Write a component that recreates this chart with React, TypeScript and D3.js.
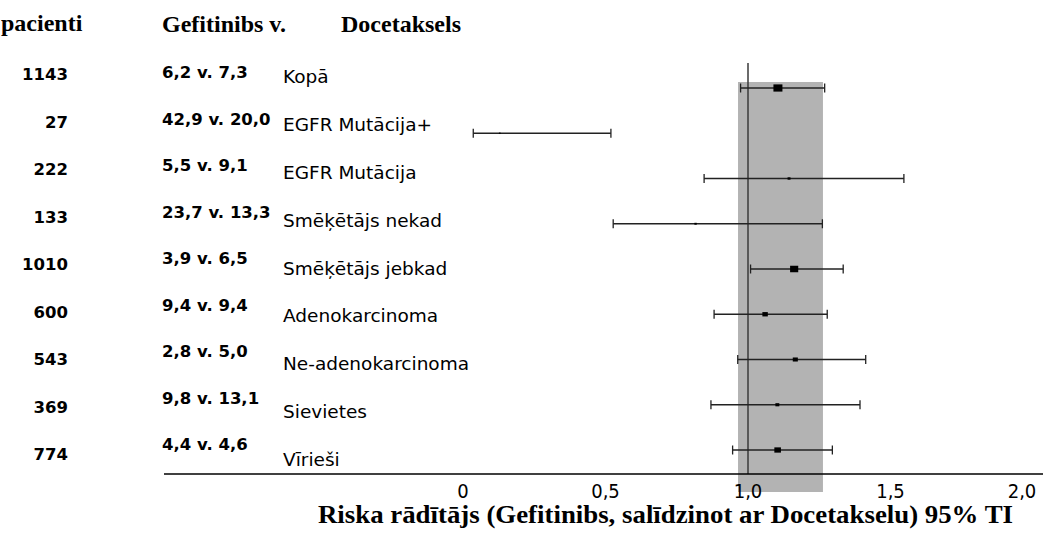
import React from 'react';
import {scaleLinear, scalePoint} from 'd3';

// rindas (apakšgrupas)
const categories = ['Kopā', 'EGFR Mutācija+', 'EGFR Mutācija', 'Smēķētājs nekad', 'Smēķētājs jebkad',
  'Adenokarcinoma', 'Ne-adenokarcinoma', 'Sievietes', 'Vīrieši'];
const patients = [1143, 27, 222, 133, 1010, 600, 543, 369, 774];
const gefitinibRate = [6.2, 42.9, 5.5, 23.7, 3.9, 9.4, 2.8, 9.8, 4.4];
const docetaxelRate = [7.3, 20.0, 9.1, 13.3, 6.5, 9.4, 5.0, 13.1, 4.6];
// riska attiecība un 95% TI
const hazardRatio = [1.105, 0.129, 1.144, 0.816, 1.162, 1.06, 1.166, 1.103, 1.104];
const ciLow = [0.974, 0.036, 0.846, 0.527, 1.009, 0.881, 0.964, 0.87, 0.946];
const ciHigh = [1.269, 0.519, 1.547, 1.261, 1.334, 1.278, 1.413, 1.393, 1.296];
// pelēkā josla
const bandRange = [0.965, 1.263];
const xTicks = [0, 0.5, 1.0, 1.5, 2.0];

const W = 1043;
const H = 547;

const fmt = (v: number) => v.toFixed(1).replace('.', ',');

const App = () => {
  const x = scaleLinear().domain([0, 2]).range([463, 1033]);
  const yRow = scalePoint<string>().domain(categories).range([88, 450]);   // TI līnijas
  const yNum = scalePoint<string>().domain(categories).range([80, 460]);   // pacienti
  const yRate = scalePoint<string>().domain(categories).range([78, 450]);  // x v. y
  const yLab = scalePoint<string>().domain(categories).range([83, 466]);   // nosaukumi
  const size = scaleLinear().domain([0, 1143]).range([1.5, 9]);

  const serif = '"Liberation Serif", "Times New Roman", serif';
  const sans = '"DejaVu Sans", Verdana, sans-serif';
  const narrow = '"DejaVu Sans Condensed", "Liberation Sans Narrow", "DejaVu Sans", sans-serif';
  const baseY = 474;

  return (
    <svg width={W} height={H} style={{position: 'absolute', left: 0, top: 0, background: '#fff'}}>
      {/* virsraksti */}
      <text x={1} y={31} fontFamily={serif} fontWeight="bold" fontSize={24}>pacienti</text>
      <text x={162} y={32} fontFamily={serif} fontWeight="bold" fontSize={24}>Gefitinibs v.</text>
      <text x={341} y={32} fontFamily={serif} fontWeight="bold" fontSize={24}>Docetaksels</text>

      {/* josla */}
      <rect x={x(bandRange[0])} y={82} width={x(bandRange[1]) - x(bandRange[0])} height={492 - 82} fill="#b3b3b3"/>
      <line x1={x(1)} x2={x(1)} y1={63} y2={baseY} stroke="#3a3a3a" strokeWidth={1.5}/>

      {categories.map((c, i) => {
        const y = yRow(c)!;
        const s = size(patients[i]);
        return (
          <g key={c}>
            <text x={68} y={yNum(c)} textAnchor="end" fontFamily={sans} fontWeight="bold" fontSize={16.5}>{patients[i]}</text>
            <text x={162} y={yRate(c)} fontFamily={sans} fontWeight="bold" fontSize={16.5}>
              {fmt(gefitinibRate[i])} v. {fmt(docetaxelRate[i])}
            </text>
            <text x={283} y={yLab(c)} fontFamily={sans} fontSize={18.5}>{c}</text>
            <line x1={x(ciLow[i])} x2={x(ciHigh[i])} y1={y} y2={y} stroke="#222" strokeWidth={1.3}/>
            <line x1={x(ciLow[i])} x2={x(ciLow[i])} y1={y - 4.5} y2={y + 4.5} stroke="#222" strokeWidth={1.3}/>
            <line x1={x(ciHigh[i])} x2={x(ciHigh[i])} y1={y - 4.5} y2={y + 4.5} stroke="#222" strokeWidth={1.3}/>
            <rect x={x(hazardRatio[i]) - s / 2} y={y - s * 0.4} width={s} height={s * 0.8} fill="#000"/>
          </g>
        );
      })}

      {/* ass */}
      <line x1={164} x2={W} y1={baseY} y2={baseY} stroke="#000" strokeWidth={1.5}/>
      {xTicks.map(t => (
        <text key={t} x={Math.min(x(t), 1022)} y={498} textAnchor="middle" fontFamily={narrow} fontSize={20}>
          {t === 0 ? '0' : fmt(t)}
        </text>
      ))}
      <text x={318} y={523} fontFamily={serif} fontWeight="bold" fontSize={25}
            textLength={695} lengthAdjust="spacingAndGlyphs">
        Riska rādītājs (Gefitinibs, salīdzinot ar Docetakselu) 95% TI
      </text>
    </svg>
  );
};

export default App;
